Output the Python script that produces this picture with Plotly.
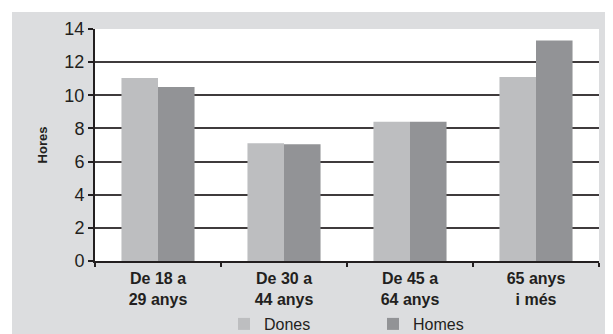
import plotly.graph_objects as go

categories = ["De 18 a<br>29 anys", "De 30 a<br>44 anys", "De 45 a<br>64 anys", "65 anys<br>i més"]
dones = [11.05, 7.1, 8.4, 11.1]
homes = [10.5, 7.05, 8.4, 13.3]
y_ticks = [0, 2, 4, 6, 8, 10, 12, 14]

fig = go.Figure()
fig.add_trace(go.Bar(name="Dones", x=categories, y=dones, marker=dict(color="#bdbec0", line=dict(width=0))))
fig.add_trace(go.Bar(name="Homes", x=categories, y=homes, marker=dict(color="#929396", line=dict(width=0))))

# page is offset by the default 8px body margin
OFF = 8
W, H = 605, 345
L = 95 - OFF
R = W - (599 - OFF)
T = 29 - OFF
B = H - (261 - OFF)
pw, ph = W - L - R, H - T - B

def px_x(p):  # page px -> paper fraction
    return (p - OFF - L) / pw

def px_y(p):
    return (H - B - (p - OFF)) / ph

fig.update_layout(
    width=W, height=H,
    margin=dict(l=L, r=R, t=T, b=B, pad=0, autoexpand=False),
    paper_bgcolor="white",
    plot_bgcolor="white",
    barmode="group",
    bargap=0.42,
    bargroupgap=0,
    font=dict(family="Liberation Sans, Arial, sans-serif", color="#231f20"),
    shapes=[
        dict(type="rect", xref="paper", yref="paper", layer="below",
             x0=px_x(12), x1=px_x(640), y0=px_y(360), y1=px_y(12),
             fillcolor="#dcdddf", line=dict(width=0)),
        dict(type="rect", xref="paper", yref="paper", layer="below",
             x0=0, x1=1, y0=0, y1=1,
             fillcolor="white", line=dict(width=0)),
    ],
    legend=dict(orientation="h", x=px_x(224), xanchor="left", y=px_y(324), yanchor="middle",
                font=dict(size=16, color="#231f20"), entrywidth=104, entrywidthmode="pixels",
                bgcolor="rgba(0,0,0,0)", traceorder="normal"),
    showlegend=True,
)
fig.update_xaxes(
    showline=True, linecolor="#231f20", linewidth=2,
    ticks="outside", tickson="boundaries", ticklen=4, tickwidth=2, tickcolor="#231f20",
    tickfont=dict(size=16, family="Liberation Sans, Arial, sans-serif", color="#231f20", weight="bold"),
    ticklabelstandoff=2,
    showgrid=False, automargin=False,
)
fig.update_yaxes(
    range=[0, 14], tickvals=y_ticks, ticktext=[str(v) for v in y_ticks],
    showline=True, linecolor="#231f20", linewidth=2,
    ticks="outside", ticklen=5, tickwidth=2, tickcolor="#231f20",
    tickfont=dict(size=18, color="#231f20"),
    showgrid=True, gridcolor="#3f3b3c", gridwidth=1.5,
    zeroline=False, automargin=False,
    title=dict(text="<b>Hores</b>", font=dict(size=13, color="#231f20"), standoff=14),
)

fig.write_html("out.html")
